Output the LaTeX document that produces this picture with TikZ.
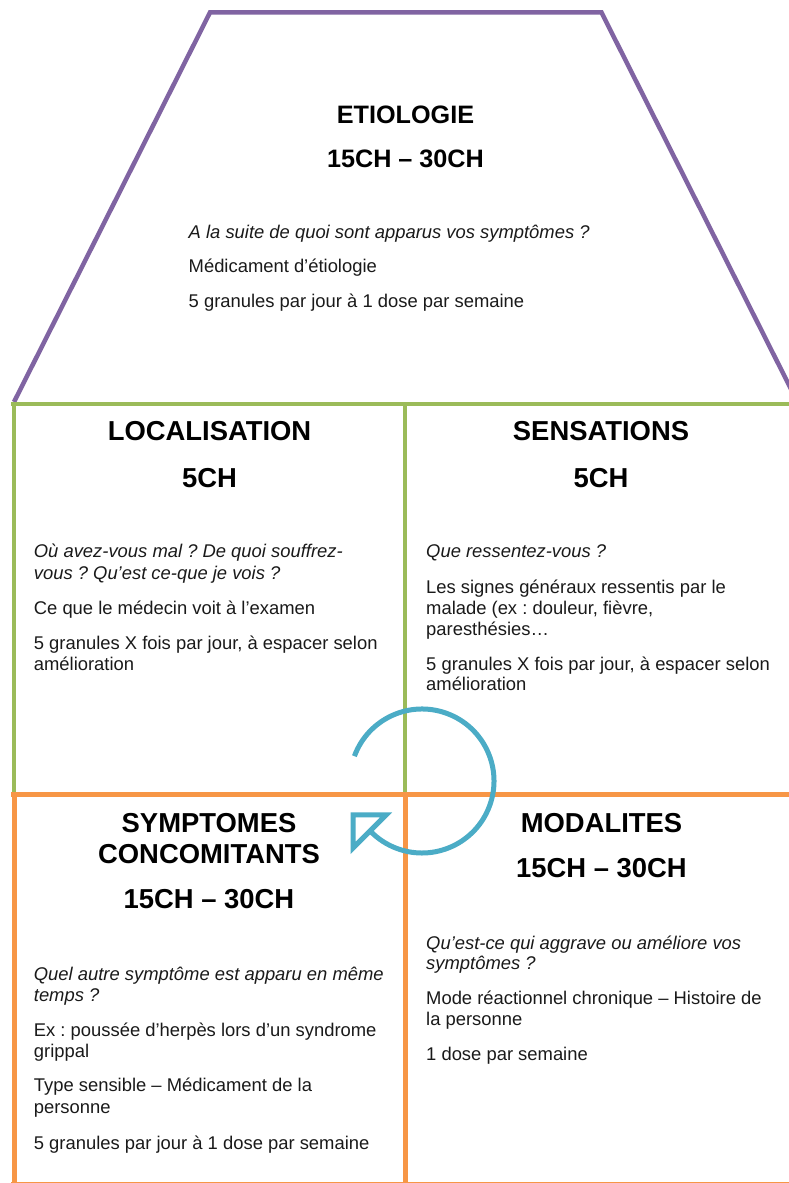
\documentclass[tikz,border=0pt]{standalone}
\usepackage{fontspec}
\setmainfont{Liberation Sans}
\usetikzlibrary{calc}
\frenchspacing
\definecolor{purp}{HTML}{8064A2}
\definecolor{grn}{HTML}{9BBB59}
\definecolor{orng}{HTML}{F79646}
\definecolor{blu}{HTML}{4BACC6}
\definecolor{txt}{HTML}{1A1A1A}
\tikzset{
  body/.style={anchor=base west, inner sep=0pt, text=txt, font=\frenchspacing\fontsize{18.4}{22}\selectfont},
  ibody/.style={body, font=\frenchspacing\fontsize{18.4}{22}\selectfont\itshape},
  head/.style={anchor=base, inner sep=0pt, text=black, font=\bfseries\fontsize{27.4}{30}\selectfont},
  headtop/.style={head, font=\bfseries\fontsize{25.2}{28}\selectfont},
  purpline/.style={draw=purp, line width=4.5pt, line join=miter},
  grnline/.style={draw=grn, line width=4.5pt},
  orline/.style={draw=orng, line width=5pt},
  cycarrow/.style={draw=blu, line width=5pt, line join=miter},
}
\begin{document}
\begin{tikzpicture}[x=1pt,y=1pt]
\useasboundingbox (0,0) rectangle (789,1183);
\fill[white] (0,0) rectangle (789,1183);
% trapezoid
\coordinate (tbl) at (14,781);
\coordinate (ttl) at (210,1170.5);
\coordinate (ttr) at (601.5,1170.5);
\coordinate (tbr) at (797.5,781);
\draw[purpline] (tbl) -- (ttl) -- (ttr) -- (tbr);
% green box
\coordinate (g1) at (11,779);
\coordinate (g2) at (800,779);
\draw[grnline] (g1) -- (g2);
\coordinate (gl1) at (14,779);
\coordinate (gl2) at (14,388);
\coordinate (gm1) at (405,779);
\coordinate (gm2) at (405,388);
\draw[grnline] (gl1) -- (gl2);
\draw[grnline] (gm1) -- (gm2);
% orange box
\coordinate (o1) at (11,388);
\coordinate (o2) at (800,388);
\draw[orline] (o1) -- (o2);
\coordinate (ol1) at (14,388);
\coordinate (ol2) at (14,-5);
\coordinate (om1) at (405,388);
\coordinate (om2) at (405,-5);
\draw[orline] (ol1) -- (ol2);
\draw[orline] (om1) -- (om2);
\coordinate (ob1) at (11,-2);
\coordinate (ob2) at (800,-2);
\draw[orline] (ob1) -- (ob2);
% Etiologie
\node[headtop] (eh) at (405.5,1059) {ETIOLOGIE};
\node[headtop] (ed) at (405.5,1015) {15CH – 30CH};
\node[ibody] (e1) at (188.5,944.7) {A la suite de quoi sont apparus vos symptômes ?};
\node[body] (e2) at (188.5,910.3) {Médicament d’étiologie};
\node[body] (e3) at (188.5,875.3) {5 granules par jour à 1 dose par semaine};
% Localisation
\node[head] (lh) at (209.5,742.2) {LOCALISATION};
\node[head] (ld) at (209.5,695.9) {5CH};
\node[ibody] (l1) at (33.7,625.3) {Où avez-vous mal ? De quoi souffrez-};
\node[ibody] (l2) at (33.7,603.7) {vous ? Qu’est ce-que je vois ?};
\node[body] (l3) at (33.7,568) {Ce que le médecin voit à l’examen};
\node[body] (l4) at (33.7,533.7) {5 granules X fois par jour, à espacer selon};
\node[body] (l5) at (33.7,512.7) {amélioration};
% Sensations
\node[head] (sh) at (601,742.2) {SENSATIONS};
\node[head] (sd) at (601,695.9) {5CH};
\node[ibody] (s1) at (426,625.3) {Que ressentez-vous ?};
\node[body] (s2) at (426,589.7) {Les signes généraux ressentis par le};
\node[body] (s3) at (426,568) {malade (ex : douleur, fièvre,};
\node[body] (s4) at (426,547.7) {paresthésies…};
\node[body] (s5) at (426,512.7) {5 granules X fois par jour, à espacer selon};
\node[body] (s6) at (426,492) {amélioration};
% Symptomes concomitants
\node[head] (ch1) at (209,350.9) {SYMPTOMES};
\node[head] (ch2) at (209,319.9) {CONCOMITANTS};
\node[head] (cd) at (209,274.2) {15CH – 30CH};
\node[ibody] (c1) at (33.7,202) {Quel autre symptôme est apparu en même};
\node[ibody] (c2) at (33.7,181) {temps ?};
\node[body] (c3) at (33.7,146.3) {Ex : poussée d’herpès lors d’un syndrome};
\node[body] (c4) at (33.7,125.3) {grippal};
\node[body] (c5) at (33.7,91) {Type sensible – Médicament de la};
\node[body] (c6) at (33.7,69.3) {personne};
\node[body] (c7) at (33.7,33.7) {5 granules par jour à 1 dose par semaine};
% Modalites
\node[head] (mh) at (601.5,350.9) {MODALITES};
\node[head] (md) at (601.5,305.5) {15CH – 30CH};
\node[ibody] (m1) at (426,233.7) {Qu’est-ce qui aggrave ou améliore vos};
\node[ibody] (m2) at (426,213) {symptômes ?};
\node[body] (m3) at (426,178) {Mode réactionnel chronique – Histoire de};
\node[body] (m4) at (426,157) {la personne};
\node[body] (m5) at (426,122) {1 dose par semaine};
% circular arrow
\coordinate (ac) at (422,402);
\coordinate (as) at ($(ac)+(159.8:72pt)$);
\draw[cycarrow] (as) arc[start angle=159.8, end angle=-136.7, radius=72pt];
\coordinate (at1) at (353,368);
\coordinate (at2) at (386,368);
\coordinate (at3) at (353,335);
\draw[cycarrow] (at1) -- (at2) -- (at3) -- cycle;
\end{tikzpicture}
\end{document}
